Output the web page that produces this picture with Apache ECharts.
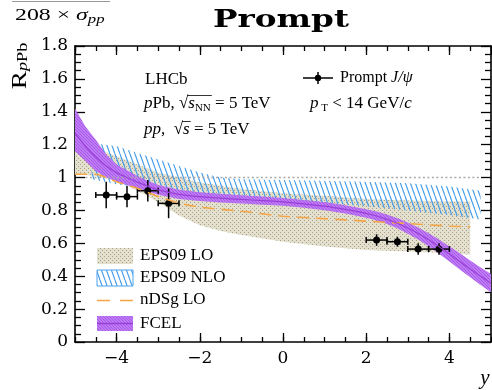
<!DOCTYPE html>
<html>
<head>
<meta charset="utf-8">
<script src="https://cdn.jsdelivr.net/npm/echarts@6/dist/echarts.min.js"></script>
<style>
html, body { margin: 0; background: #fff; }
#chart { width: 492px; height: 390px; }
</style>
</head>
<body>
<div id="chart"></div>
<script>
// LHCb prompt J/psi, pPb 5 TeV
const jpsiY = [-4.25, -3.75, -3.25, -2.75, 2.25, 2.75, 3.25, 3.75];
const jpsiR = [0.894, 0.884, 0.92, 0.843, 0.62, 0.61, 0.565, 0.565];
const jpsiYErr = [0.25, 0.25, 0.25, 0.25, 0.25, 0.25, 0.25, 0.25];
const jpsiRErr = [0.08, 0.065, 0.065, 0.09, 0.035, 0.03, 0.035, 0.035];

// EPS09 LO band
const loX = [-5, -4.5, -4, -3.5, -3, -2.5, -2, -1.5, -1, 0, 1, 2, 3, 4, 4.5];
const loLow = [1.02, 1.01, 0.98, 0.92, 0.85, 0.77, 0.71, 0.675, 0.65, 0.61, 0.58, 0.56, 0.55, 0.54, 0.53];
const loHigh = [1.2, 1.18, 1.13, 1.08, 1.03, 1.0, 0.97, 0.95, 0.93, 0.905, 0.89, 0.87, 0.86, 0.855, 0.855];

// EPS09 NLO band
const nloX = [-4.6, -4, -3.5, -3, -2.5, -2, -1.5, -1, 0, 1, 2, 3, 4, 4.75];
const nloLow = [0.99, 0.96, 0.94, 0.92, 0.9, 0.885, 0.875, 0.868, 0.86, 0.845, 0.825, 0.8, 0.772, 0.745];
const nloHigh = [1.21, 1.19, 1.15, 1.11, 1.07, 1.03, 1.0, 0.99, 0.985, 0.98, 0.975, 0.965, 0.945, 0.92];

// nDSg LO
const ndsgX = [-5, -4.5, -4.25, -4, -3.5, -3, -2.5, -2, -1, 0, 1, 2, 3, 4, 4.5];
const ndsgR = [1.02, 1.02, 1.0, 0.975, 0.935, 0.885, 0.845, 0.82, 0.795, 0.765, 0.75, 0.735, 0.72, 0.705, 0.7];

// FCEL
const fcelX = [-5, -4.75, -4.5, -4.25, -4, -3.75, -3.5, -3.25, -3, -2.5, -2, -1.5, -1, -0.5, 0, 0.5, 1, 1.5, 2, 2.25, 2.5, 2.75, 3, 3.25, 3.5, 3.75, 4, 4.25, 4.5, 4.75, 5];
const fcelMid = [1.27, 1.19, 1.125, 1.07, 1.03, 1.0, 0.972, 0.948, 0.925, 0.898, 0.884, 0.875, 0.867, 0.86, 0.852, 0.84, 0.826, 0.806, 0.782, 0.766, 0.746, 0.722, 0.693, 0.66, 0.622, 0.58, 0.535, 0.49, 0.444, 0.4, 0.358];
const fcelLow = [1.16, 1.1, 1.04, 1.0, 0.975, 0.955, 0.935, 0.915, 0.895, 0.87, 0.857, 0.849, 0.842, 0.835, 0.828, 0.816, 0.801, 0.781, 0.756, 0.739, 0.717, 0.691, 0.659, 0.623, 0.582, 0.537, 0.489, 0.441, 0.393, 0.347, 0.303];
const fcelHigh = [1.42, 1.31, 1.23, 1.14, 1.08, 1.045, 1.01, 0.98, 0.955, 0.926, 0.911, 0.901, 0.892, 0.885, 0.876, 0.864, 0.851, 0.831, 0.808, 0.793, 0.775, 0.753, 0.727, 0.697, 0.662, 0.623, 0.581, 0.539, 0.495, 0.453, 0.413];

// reference line
const unityX = [-4.75, 4.75];
const unityR = [1, 1];

const serif = '"Liberation Serif", "Times New Roman", serif';
const tickFont = '"DejaVu Serif", serif';

const mctx = document.createElement('canvas').getContext('2d');
function tw(font, s) { mctx.font = font; return mctx.measureText(s).width; }
const fN = '17px "Liberation Serif"';
const fI = 'italic 17px "Liberation Serif"';
const fS = '11px "Liberation Serif"';

function dotPattern() {
  const c = document.createElement('canvas');
  c.width = 4; c.height = 4;
  const g = c.getContext('2d');
  g.fillStyle = '#e4e0d0';
  g.fillRect(0, 0, 4, 4);
  g.fillStyle = '#a9a182';
  g.fillRect(0, 0, 1, 1);
  g.fillRect(2, 2, 1, 1);
  return { image: c, repeat: 'repeat' };
}

function hatchPattern() {
  const c = document.createElement('canvas');
  c.width = 5; c.height = 14;
  const g = c.getContext('2d');
  g.strokeStyle = '#3f9bea';
  g.lineWidth = 1.1;
  for (let k = -1; k <= 1; k++) {
    g.beginPath();
    g.moveTo(k * 5, 0);
    g.lineTo(k * 5 + 5, 14);
    g.stroke();
  }
  return { image: c, repeat: 'repeat' };
}

function purplePattern() {
  const c = document.createElement('canvas');
  c.width = 3; c.height = 3;
  const g = c.getContext('2d');
  g.fillStyle = '#bd7cf3';
  g.fillRect(0, 0, 3, 3);
  g.fillStyle = '#a958ea';
  g.fillRect(0, 0, 1, 1);
  g.fillRect(1, 1, 1, 1);
  g.fillRect(2, 2, 1, 1);
  return { image: c, repeat: 'repeat' };
}

const dots = dotPattern();
const hatch = hatchPattern();
const purple = purplePattern();

function band(xs, lo, hi, fill) {
  const rows = xs.map((x, i) => [x, lo[i], hi[i]]);
  return {
    type: 'custom',
    data: rows,
    encode: { x: 0, y: [1, 2] },
    silent: true,
    clip: true,
    renderItem: function (params, api) {
      if (params.dataIndex !== 0) return;
      const pts = [];
      for (let i = 0; i < rows.length; i++) pts.push(api.coord([rows[i][0], rows[i][2]]));
      for (let i = rows.length - 1; i >= 0; i--) pts.push(api.coord([rows[i][0], rows[i][1]]));
      return { type: 'polygon', shape: { points: pts }, style: { fill: fill } };
    }
  };
}

const tickStyle = { color: '#000', width: 1.3 };
const lineStyleAx = { color: '#000', width: 1.6 };

function xMajor(pos, labels) {
  return {
    type: 'value', min: -5, max: 5, splitNumber: 5, position: pos, offset: 0,
    axisLine: { show: true, onZero: false, lineStyle: lineStyleAx },
    axisTick: { inside: true, length: 9, lineStyle: tickStyle },
    axisLabel: {
      show: labels, showMinLabel: false, showMaxLabel: false,
      fontFamily: tickFont, fontSize: 17, color: '#000', margin: 8,
      formatter: v => String(v).replace('-', '\u2212')
    },
    splitLine: { show: false }
  };
}
function xMinor(pos) {
  return {
    type: 'value', min: -5, max: 5, interval: 0.5, position: pos, offset: 0,
    axisLine: { show: false, onZero: false },
    axisTick: { inside: true, length: 5, lineStyle: tickStyle },
    axisLabel: { show: false },
    splitLine: { show: false }
  };
}
function yAx(pos, labels) {
  return {
    type: 'value', min: 0, max: 1.8, interval: 0.2, position: pos, offset: 0,
    axisLine: { show: true, onZero: false, lineStyle: lineStyleAx },
    axisTick: { inside: true, length: 10, lineStyle: tickStyle },
    minorTick: { show: true, splitNumber: 4, length: 6, lineStyle: tickStyle },
    axisLabel: { show: labels, fontFamily: tickFont, fontSize: 17, color: '#000', margin: 7 },
    splitLine: { show: false }
  };
}

const chart = echarts.init(document.getElementById('chart'));

const sub = { fontFamily: serif, fontSize: 11, lineHeight: 6, verticalAlign: 'bottom', fill: '#000' };
const norm = { fontFamily: serif, fontSize: 17, lineHeight: 20, fill: '#000' };
const ital = Object.assign({}, norm, { fontStyle: 'italic' });

// overline positions for the square roots
const t1x = 144, t1y = 104;
const pre1 = tw(fI, 'p') + tw(fN, 'Pb, \u221a');
const rad1 = tw(fI, 's') + tw(fS, 'NN');
const t2x = 144, t2y = 130;
const pre2 = tw(fI, 'pp') + tw(fN, ',  \u221a');
const rad2 = tw(fI, 's');

const option = {
  animation: false,
  grid: { left: 75, right: 1, top: 46, bottom: 48 },
  xAxis: [xMajor('bottom', true), xMinor('bottom'), xMajor('top', false), xMinor('top')],
  yAxis: [yAx('left', true), yAx('right', false)],
  series: [
    band(loX, loLow, loHigh, dots),
    band(nloX, nloLow, nloHigh, hatch),
    {
      type: 'line', data: unityX.map((x, i) => [x, unityR[i]]),
      showSymbol: false, silent: true,
      lineStyle: { color: '#a8a8a8', width: 1.5, type: [2, 2.5] }
    },
    {
      type: 'line', data: ndsgX.map((x, i) => [x, ndsgR[i]]),
      showSymbol: false, silent: true, smooth: 0.3,
      lineStyle: { color: '#f4a545', width: 1.6, type: [12, 7] }
    },
    band(fcelX, fcelLow, fcelHigh, purple),
    {
      type: 'line', data: fcelX.map((x, i) => [x, fcelMid[i]]),
      showSymbol: false, silent: true, smooth: 0.2,
      lineStyle: { color: '#9a3ed8', width: 1.2 }
    },
    {
      type: 'custom',
      data: jpsiY.map((x, i) => [x, jpsiR[i], jpsiYErr[i], jpsiRErr[i]]),
      encode: { x: 0, y: 1 },
      renderItem: function (params, api) {
        const x = api.value(0), y = api.value(1), ex = api.value(2), ey = api.value(3);
        const c = api.coord([x, y]);
        const l = api.coord([x - ex, y]);
        const r = api.coord([x + ex, y]);
        const t = api.coord([x, y + ey]);
        const b = api.coord([x, y - ey]);
        const st = { stroke: '#000', lineWidth: 1.5 };
        return {
          type: 'group',
          children: [
            { type: 'line', shape: { x1: l[0], y1: l[1], x2: r[0], y2: r[1] }, style: st },
            { type: 'line', shape: { x1: t[0], y1: t[1], x2: b[0], y2: b[1] }, style: st },
            { type: 'line', shape: { x1: l[0], y1: l[1] - 3, x2: l[0], y2: l[1] + 3 }, style: st },
            { type: 'line', shape: { x1: r[0], y1: r[1] - 3, x2: r[0], y2: r[1] + 3 }, style: st },
            { type: 'circle', shape: { cx: c[0], cy: c[1], r: 3.5 }, style: { fill: '#000' } }
          ]
        };
      }
    }
  ],
  graphic: [
    { type: 'line', shape: { x1: 12, y1: 1.5, x2: 110, y2: 1.5 }, style: { stroke: '#999', lineWidth: 1 } },
    {
      type: 'text', x: 15, y: 16, scaleX: 1.4,
      style: {
        text: '{n|208 × }{i|σ}{s|pp}', verticalAlign: 'middle',
        rich: { n: norm, i: ital, s: Object.assign({}, sub, { fontStyle: 'italic', fontSize: 12 }) }
      }
    },
    {
      type: 'text', x: 281, y: 21, scaleX: 1.36,
      style: { text: 'Prompt', font: 'bold 24px "DejaVu Serif"', fill: '#000', align: 'center', verticalAlign: 'middle' }
    },
    {
      type: 'text', x: 20, y: 66, rotation: Math.PI / 2, scaleX: 1.3,
      style: {
        text: '{r|R}{s|p}{t|Pb}', align: 'center', verticalAlign: 'middle',
        rich: {
          r: { fontFamily: serif, fontSize: 21, lineHeight: 21, fill: '#000' },
          s: { fontFamily: serif, fontSize: 14, lineHeight: 8, fontStyle: 'italic', verticalAlign: 'bottom', fill: '#000' },
          t: { fontFamily: serif, fontSize: 14, lineHeight: 8, verticalAlign: 'bottom', fill: '#000' }
        }
      }
    },
    {
      type: 'text', x: 485, y: 378,
      style: { text: 'y', font: 'italic 21px "Liberation Serif"', fill: '#000', align: 'center', verticalAlign: 'middle' }
    },
    { type: 'text', x: 145, y: 80, style: { text: 'LHCb', font: fN, fill: '#000', verticalAlign: 'middle' } },
    {
      type: 'text', x: t1x, y: t1y,
      style: {
        text: '{i|p}{n|Pb, \u221a}{i|s}{s|NN}{n| = 5 TeV}', verticalAlign: 'middle',
        rich: { n: norm, i: ital, s: sub }
      }
    },
    { type: 'line', shape: { x1: t1x + pre1 - 1, y1: t1y - 8.5, x2: t1x + pre1 + rad1 + 1, y2: t1y - 8.5 }, style: { stroke: '#000', lineWidth: 0.8 } },
    {
      type: 'text', x: t2x, y: t2y,
      style: {
        text: '{i|pp}{n|,  \u221a}{i|s}{n| = 5 TeV}', verticalAlign: 'middle',
        rich: { n: norm, i: ital }
      }
    },
    { type: 'line', shape: { x1: t2x + pre2 - 1, y1: t2y - 8.5, x2: t2x + pre2 + rad2 + 1, y2: t2y - 8.5 }, style: { stroke: '#000', lineWidth: 0.8 } },
    {
      type: 'text', x: 310, y: 104,
      style: {
        text: '{i|p}{s| T}{n| < 14 GeV/}{i|c}', verticalAlign: 'middle',
        rich: { n: norm, i: ital, s: sub }
      }
    },
    // Prompt J/psi legend
    { type: 'line', shape: { x1: 303, y1: 78, x2: 333, y2: 78 }, style: { stroke: '#000', lineWidth: 1.5 } },
    { type: 'line', shape: { x1: 318, y1: 72, x2: 318, y2: 84 }, style: { stroke: '#000', lineWidth: 1.5 } },
    { type: 'circle', shape: { cx: 318, cy: 78, r: 3.2 }, style: { fill: '#000' } },
    {
      type: 'text', x: 340, y: 78,
      style: { text: '{n|Prompt }{i|J/ψ}', verticalAlign: 'middle', rich: { n: Object.assign({}, norm, { fontSize: 16 }), i: Object.assign({}, ital, { fontSize: 16 }) } }
    },
    // model legend
    { type: 'rect', shape: { x: 97, y: 248, width: 36, height: 16 }, style: { fill: dots } },
    { type: 'rect', shape: { x: 97, y: 270, width: 36, height: 16 }, style: { fill: hatch, stroke: '#4fa3f0', lineWidth: 1 } },
    { type: 'line', shape: { x1: 97, y1: 300.5, x2: 133, y2: 300.5 }, style: { stroke: '#f4a545', lineWidth: 1.6, lineDash: [13, 10] } },
    { type: 'rect', shape: { x: 97, y: 316, width: 36, height: 15 }, style: { fill: purple } },
    { type: 'line', shape: { x1: 97, y1: 323.5, x2: 133, y2: 323.5 }, style: { stroke: '#9a3ed8', lineWidth: 1.5 } },
    { type: 'text', x: 140, y: 256, style: { text: 'EPS09 LO', font: fN, fill: '#000', verticalAlign: 'middle' } },
    { type: 'text', x: 140, y: 278, style: { text: 'EPS09 NLO', font: fN, fill: '#000', verticalAlign: 'middle' } },
    { type: 'text', x: 140, y: 300, style: { text: 'nDSg LO', font: fN, fill: '#000', verticalAlign: 'middle' } },
    { type: 'text', x: 140, y: 324, style: { text: 'FCEL', font: fN, fill: '#000', verticalAlign: 'middle' } }
  ]
};

chart.setOption(option);
window.onresize = function () { chart.resize(); };
</script>
</body>
</html>
